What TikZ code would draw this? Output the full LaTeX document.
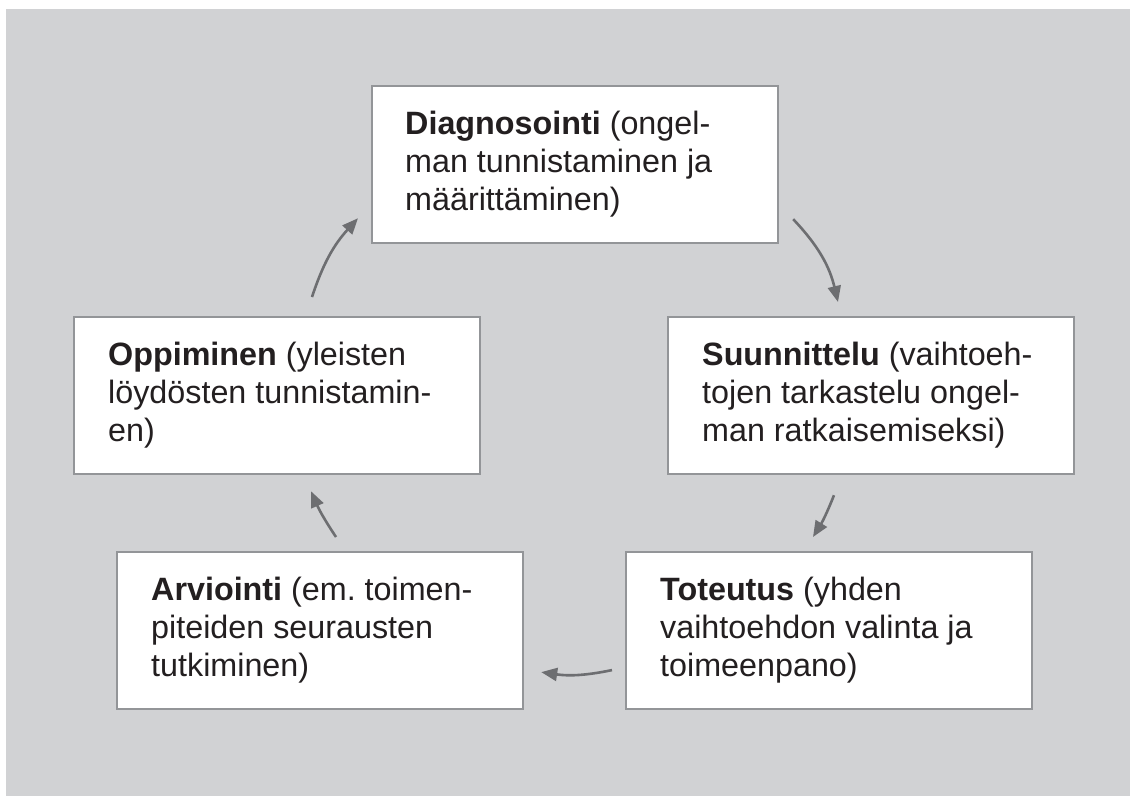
\documentclass[tikz,border=0pt]{standalone}
\usepackage{fontspec}
\setmainfont{Liberation Sans}
\usetikzlibrary{arrows.meta}
\definecolor{bg}{RGB}{209,210,212}
\definecolor{frame}{RGB}{147,149,152}
\definecolor{arr}{RGB}{109,110,113}
\definecolor{ink}{RGB}{35,31,32}
\begin{document}
\frenchspacing
\begin{tikzpicture}[x=1pt,y=-1pt,
  box/.style={draw=frame, line width=2.2pt, fill=white, minimum width=406pt, minimum height=157pt, inner sep=0pt, anchor=north west},
  txt/.style={anchor=west, align=left, text=ink, font=\fontsize{32.3}{38}\selectfont\frenchspacing, inner sep=0pt},
  flow/.style={draw=arr, line width=2.6pt, -{Triangle[length=16pt,width=13pt]}}]
\useasboundingbox (0,0) rectangle (1130,796);
\fill[bg] (6,9) rectangle (1130,796);
\node[box] (diag) at (371,85) {};
\node[box] (suun) at (667,316) {};
\node[box] (opp) at (73,316) {};
\node[box] (arv) at (116,551) {};
\node[box] (tot) at (625,551) {};
\node[txt] (diagt) at ([xshift=34pt]diag.west) {\textbf{Diagnosointi} (ongel-\\man tunnistaminen ja\\määrittäminen)};
\node[txt] (suunt) at ([xshift=35pt]suun.west) {\textbf{Suunnittelu} (vaihtoeh-\\tojen tarkastelu ongel-\\man ratkaisemiseksi)};
\node[txt] (oppt) at ([xshift=35pt]opp.west) {\textbf{Oppiminen} (yleisten\\löydösten tunnistamin-\\en)};
\node[txt] (arvt) at ([xshift=35pt]arv.west) {\textbf{Arviointi} (em.\ toimen-\\piteiden seurausten\\tutkiminen)};
\node[txt] (tott) at ([xshift=35pt]tot.west) {\textbf{Toteutus} (yhden\\vaihtoehdon valinta ja\\toimeenpano)};
\draw[flow] ([shift={(14,-25)}]diag.south east) to[bend left=15] ([shift={(171,-14)}]suun.north west);
\draw[flow] ([shift={(167,20)}]suun.south west) to[bend left=5] ([shift={(188,-14)}]tot.north west);
\draw[flow] ([shift={(-13,39.5)}]tot.west) to[bend left=10] ([shift={(17,41.5)}]arv.east);
\draw[flow] ([shift={(220,-14)}]arv.north west) to[bend left=5] ([shift={(238,16)}]opp.south west);
\draw[flow] ([shift={(239,-19)}]opp.north west) to[bend left=12] ([shift={(-13,-26)}]diag.south west);
\end{tikzpicture}
\end{document}
